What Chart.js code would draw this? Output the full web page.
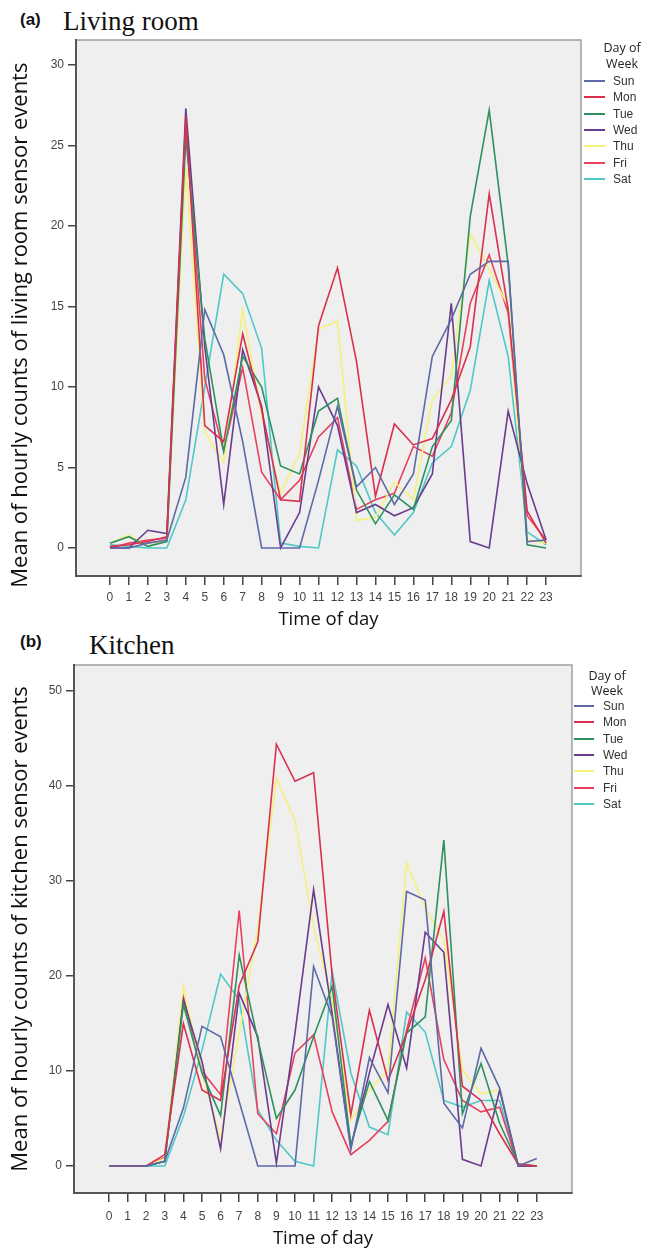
<!DOCTYPE html>
<html>
<head>
<meta charset="utf-8">
<script src="https://cdn.jsdelivr.net/npm/chart.js@4.4.1/dist/chart.umd.min.js"></script>
<style>
  html, body { margin: 0; padding: 0; background: #fff; }
  body { width: 649px; height: 1250px; position: relative; overflow: hidden; }
  canvas { position: absolute; left: 0; }
  .tag { position: absolute; font: bold 17px "Liberation Sans", Arial, sans-serif; color: #111; line-height: 20px; }
  .name { position: absolute; font: 27px "Liberation Serif", "Times New Roman", serif; color: #111; line-height: 27px; white-space: nowrap; }
  .lg { position: absolute; white-space: nowrap; color: #333; }
  .lg-title { font: 12.5px "Open Sans", sans-serif; transform: translate(-50%, -50%); color: #222; }
  .lg-text { font: 12px "Liberation Sans", Arial, sans-serif; transform: translateY(-50%); }
  .lg-line { position: absolute; height: 2px; }
</style>
</head>
<body>
<div class="tag" style="left:20px; top:10px;">(a)</div>
<div class="name" style="left:63px; top:8px;">Living room</div>
<div class="tag" style="left:20px; top:632px;">(b)</div>
<div class="name" style="left:89px; top:632px;">Kitchen</div>

<canvas id="living" width="649" height="640" style="top:0px;"></canvas>
<canvas id="kitchen" width="649" height="625" style="top:625px;"></canvas>

<script>
// hour of day
const hours = [0, 1, 2, 3, 4, 5, 6, 7, 8, 9, 10, 11, 12, 13, 14, 15, 16, 17, 18, 19, 20, 21, 22, 23];
const days = ['Sun', 'Mon', 'Tue', 'Wed', 'Thu', 'Fri', 'Sat'];
const dayColors = ['#5d6aa6', '#d8304e', '#2e9160', '#6a3c8e', '#f4f27a', '#e8405e', '#4fc8c8'];

// (a) living room, mean hourly counts
const lrSun = [0, 0, 0.3, 0.5, 4.4, 14.8, 12.0, 6.6, 0, 0, 0, 4.2, 8.8, 3.8, 5.0, 2.7, 4.6, 11.9, 14.2, 17.0, 17.8, 17.8, 0.4, 0.5];
const lrMon = [0.1, 0.2, 0.4, 0.7, 26.8, 7.6, 6.6, 13.3, 8.6, 3.0, 2.9, 13.8, 17.4, 11.6, 3.2, 7.7, 6.4, 6.8, 9.2, 12.5, 22.0, 14.8, 2.3, 0.3];
const lrTue = [0.3, 0.7, 0.1, 0.4, 25.5, 13.0, 6.0, 11.9, 10.0, 5.1, 4.6, 8.5, 9.3, 3.6, 1.5, 3.3, 2.4, 6.3, 7.9, 20.6, 27.2, 17.6, 0.2, 0.0];
const lrWed = [0, 0, 1.1, 0.9, 27.3, 12.5, 2.7, 12.3, 8.8, 0, 2.2, 10.0, 7.6, 2.2, 2.7, 2.0, 2.5, 4.6, 15.2, 0.4, 0, 8.5, 4.0, 0.5];
const lrThu = [0.3, 0.8, 0.1, 0.5, 23.6, 7.2, 5.3, 14.8, 8.2, 3.4, 5.9, 13.6, 14.1, 1.7, 1.9, 4.1, 3.0, 9.2, 10.7, 19.5, 17.3, 15.0, 0.5, 0.3];
const lrFri = [0, 0.3, 0.5, 0.6, 26.3, 10.5, 6.0, 11.2, 4.7, 3.0, 4.2, 6.9, 8.1, 2.4, 3.0, 3.4, 6.3, 5.7, 8.4, 15.2, 18.2, 14.6, 2.0, 0.5];
const lrSat = [0.2, 0.1, 0, 0, 3.0, 10.0, 17.0, 15.8, 12.4, 0.3, 0.1, 0, 6.1, 5.1, 2.2, 0.8, 2.2, 5.3, 6.3, 9.8, 16.6, 11.9, 1.0, 0.2];

// (b) kitchen, mean hourly counts
const kSun = [0, 0, 0, 0.5, 6.1, 14.7, 13.6, 6.8, 0, 0, 0, 21.0, 15.7, 1.7, 11.4, 7.7, 28.9, 28.0, 6.6, 4.0, 12.4, 8.2, 0, 0.8];
const kMon = [0, 0, 0, 1.2, 15.0, 8.0, 6.9, 19.0, 23.6, 44.4, 40.5, 41.4, 20.0, 5.4, 16.4, 9.0, 14.0, 19.6, 26.8, 8.4, 6.9, 3.4, 0.2, 0];
const kTue = [0, 0, 0, 0.5, 17.0, 9.8, 5.3, 22.2, 13.3, 5.0, 8.0, 13.6, 18.9, 2.2, 8.9, 4.8, 14.0, 15.7, 34.3, 5.5, 10.8, 4.5, 0.2, 0];
const kWed = [0, 0, 0, 0.5, 17.5, 11.0, 1.8, 18.2, 13.6, 0.3, 14.0, 29.1, 16.0, 2.0, 9.8, 17.0, 10.3, 24.6, 22.5, 0.7, 0, 8.0, 0, 0];
const kThu = [0, 0, 0, 0.8, 18.9, 9.8, 2.9, 14.0, 25.0, 40.8, 36.4, 25.2, 17.5, 4.8, 8.0, 10.1, 31.9, 27.1, 23.8, 10.1, 7.6, 8.0, 0.2, 0];
const kFri = [0, 0, 0, 0.9, 17.8, 10.0, 7.5, 26.9, 5.5, 3.4, 11.9, 13.8, 5.7, 1.2, 2.7, 4.7, 14.3, 21.9, 11.2, 6.9, 5.7, 6.2, 0, 0];
const kSat = [0, 0, 0, 0, 5.2, 12.2, 20.2, 17.5, 5.9, 2.7, 0.5, 0, 20.5, 9.8, 4.1, 3.3, 16.2, 14.1, 6.9, 6.2, 6.9, 6.9, 0, 0];

const livingTicks = [0, 5, 10, 15, 20, 25, 30];
const kitchenTicks = [0, 10, 20, 30, 40, 50];

// grey plot background + light frame, like the SPSS output
const plotFrame = {
  id: 'plotFrame',
  beforeDraw(chart) {
    const { ctx, chartArea: a } = chart;
    ctx.save();
    ctx.fillStyle = '#efefef';
    ctx.fillRect(a.left, a.top, a.right - a.left, a.bottom - a.top);
    ctx.strokeStyle = '#a0a0a0';
    ctx.lineWidth = 1.5;
    ctx.strokeRect(a.left, a.top, a.right - a.left, a.bottom - a.top);
    ctx.restore();
  }
};

function makeChart(id, series, cfg) {
  const datasets = series.map((vals, i) => ({
    label: days[i],
    data: hours.map((h, j) => ({ x: h, y: vals[j] })),
    borderColor: dayColors[i],
    backgroundColor: dayColors[i],
    borderWidth: 1.6,
    pointRadius: 0,
    tension: 0,
    fill: false
  }));

  return new Chart(document.getElementById(id), {
    type: 'line',
    data: { datasets },
    plugins: [plotFrame],
    options: {
      responsive: false,
      animation: false,
      devicePixelRatio: 1,
      layout: { padding: cfg.padding },
      plugins: { legend: { display: false }, tooltip: { enabled: false } },
      scales: {
        x: {
          type: 'linear',
          min: cfg.xMin,
          max: cfg.xMax,
          afterBuildTicks: (s) => { s.ticks = hours.map(v => ({ value: v })); },
          afterFit: (s) => { s.height = cfg.xHeight; },
          grid: { drawOnChartArea: false, drawTicks: true, tickLength: 9, color: '#444', lineWidth: 1.5 },
          border: { display: true, color: '#555', width: 2 },
          ticks: {
            autoSkip: false, maxRotation: 0, padding: cfg.xTickPad, color: '#444',
            font: { family: 'Liberation Sans', size: 12 }
          },
          title: {
            display: true, text: 'Time of day', color: '#111',
            font: { family: 'Open Sans', size: 18.5 },
            padding: { top: 0, bottom: cfg.xTitlePad }
          }
        },
        y: {
          type: 'linear',
          min: cfg.yMin,
          max: cfg.yMax,
          afterBuildTicks: (s) => { s.ticks = cfg.yTicks.map(v => ({ value: v })); },
          afterFit: (s) => { s.width = cfg.yWidth; },
          grid: { drawOnChartArea: false, drawTicks: true, tickLength: 8, color: '#444', lineWidth: 1.5 },
          border: { display: true, color: '#555', width: 2 },
          ticks: {
            padding: 4, color: '#444',
            font: { family: 'Liberation Sans', size: 12 }
          },
          title: {
            display: true, text: cfg.yTitle, color: '#111',
            font: { family: 'Open Sans', size: 22 },
            padding: { top: 8, bottom: 0 }
          }
        }
      }
    }
  });
}

function buildLegend(chart, lg) {
  const add = (text, cls, x, y) => {
    const d = document.createElement('div');
    d.className = 'lg ' + cls;
    d.style.left = x + 'px';
    d.style.top = y + 'px';
    d.textContent = text;
    document.body.appendChild(d);
    return d;
  };
  add('Day of', 'lg-title', lg.titleX, lg.titleY);
  add('Week', 'lg-title', lg.titleX, lg.titleY + lg.titleGap);
  chart.data.datasets.forEach((ds, i) => {
    const y = lg.itemY + i * lg.step;
    const line = document.createElement('div');
    line.className = 'lg-line';
    line.style.left = lg.lineX + 'px';
    line.style.width = lg.lineW + 'px';
    line.style.top = (y - 1) + 'px';
    line.style.background = ds.borderColor;
    document.body.appendChild(line);
    add(ds.label, 'lg-text', lg.textX, y);
  });
}

const living = makeChart('living', [lrSun, lrMon, lrTue, lrWed, lrThu, lrFri, lrSat], {
  padding: { top: 40, right: 68, bottom: 0, left: 0 },
  xMin: -1.79, xMax: 24.84, xHeight: 64, xTickPad: 5, xTitlePad: 9,
  yMin: -1.74, yMax: 31.55, yWidth: 76, yTicks: livingTicks,
  yTitle: 'Mean of hourly counts of living room sensor events      '
});

const kitchen = makeChart('kitchen', [kSun, kMon, kTue, kWed, kThu, kFri, kSat], {
  padding: { top: 40, right: 77, bottom: 0, left: 0 },
  xMin: -1.88, xMax: 24.89, xHeight: 57, xTickPad: 7, xTitlePad: 0,
  yMin: -2.84, yMax: 52.74, yWidth: 74, yTicks: kitchenTicks,
  yTitle: 'Mean of hourly counts of kitchen sensor events'
});

buildLegend(living, { titleX: 622, titleY: 47, titleGap: 16, lineX: 584, lineW: 21, textX: 613, itemY: 81, step: 16.3 });
buildLegend(kitchen, { titleX: 607, titleY: 675, titleGap: 15, lineX: 574, lineW: 20, textX: 603, itemY: 706, step: 16.3 });
</script>
</body>
</html>
